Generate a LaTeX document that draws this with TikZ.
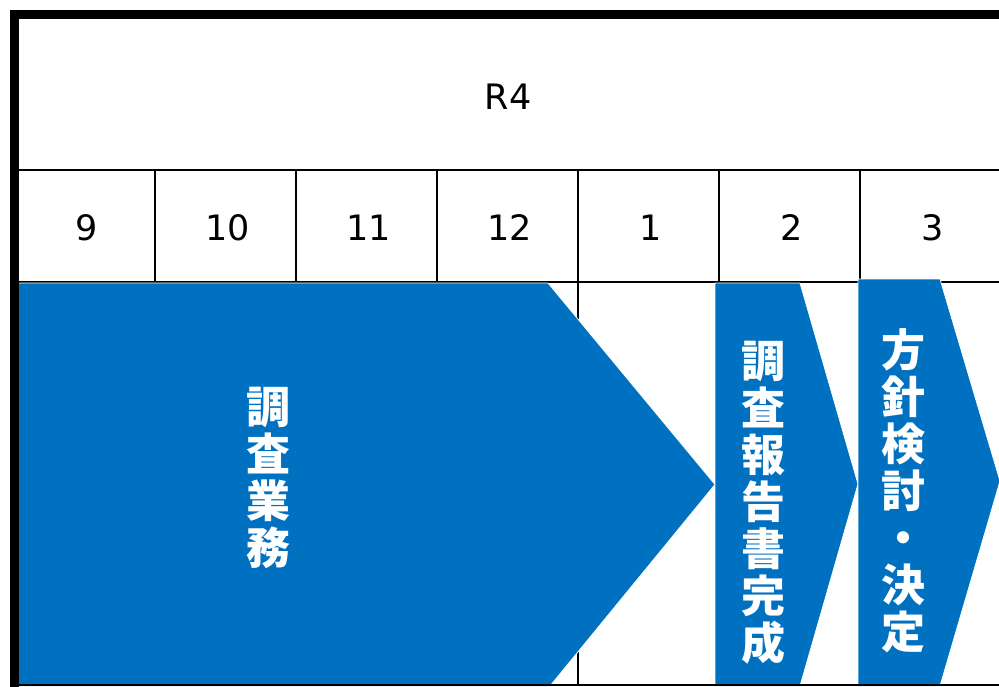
\documentclass[tikz,border=0pt]{standalone}
\usepackage{fontspec}
\setmainfont{DejaVu Sans}
\newfontfamily\jpfont{Noto Sans CJK JP}
\definecolor{stepblue}{HTML}{0070C0}
\begin{document}
\begin{tikzpicture}[x=1pt, y=-1pt,
	gridline/.style={black, line width=1.5pt},
	monthlabel/.style={font=\fontsize{35}{40}\selectfont, inner sep=0pt},
	phase/.style={fill=stepblue, draw=white, line width=0.8pt},
	phaselabel/.style={text=white, align=center, inner sep=0pt,
		font=\jpfont\bfseries\fontsize{44}{47}\selectfont}]
	\useasboundingbox (0, 0) rectangle (999, 686);
	% grid
	\draw [gridline] (18, 170) -- (1000, 170);
	\draw [gridline] (18, 282) -- (1000, 282);
	\foreach \x in {155, 296, 437, 578, 719, 860}
	        \draw [gridline] (\x, 170) -- (\x, 686);
	% header
	\node [monthlabel] at (508, 97) (R4) {R4};
	\foreach \m [count=\i from 0] in {9, 10, 11, 12, 1, 2, 3}
	        \node [monthlabel] at (86.5 + 141*\i, 228) (M\i) {\m};
	% phases
	\draw [phase] (18, 283) -- (548, 283) -- (715, 484.5) -- (550, 686) -- (18, 686) -- cycle;
	\draw [phase] (715, 283) -- (800, 283) -- (858, 484) -- (800, 686) -- (715, 686) -- cycle;
	\draw [phase] (858, 279) -- (940, 279) -- (1000, 481) -- (940, 686) -- (858, 686) -- cycle;
	\node [phaselabel] at (268, 478) (P1) {調\\査\\業\\務};
	\node [phaselabel] at (763, 503) (P2) {調\\査\\報\\告\\書\\完\\成};
	\node [phaselabel] at (903, 491) (P3) {方\\針\\検\\討\\・\\決\\定};
	% frame
	\draw [gridline] (18, 685.2) -- (1000, 685.2);
	\draw [black, line width=9pt] (14, 690) -- (14, 14) -- (1005, 14);
\end{tikzpicture}
\end{document}
